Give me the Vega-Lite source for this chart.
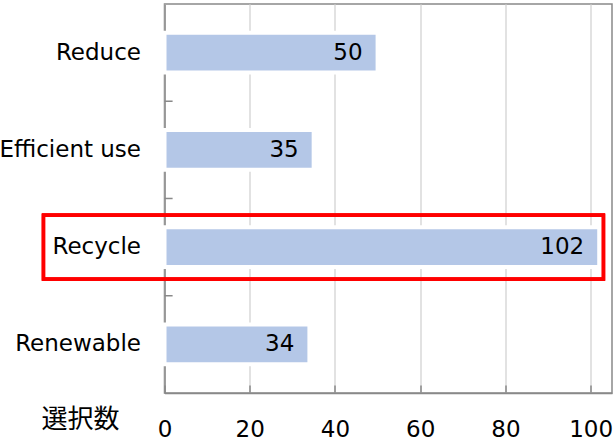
{
  "$schema": "https://vega.github.io/schema/vega-lite/v6.json",
  "autosize": "none",
  "width": 447.5,
  "height": 389,
  "padding": {"left": 164.5, "top": 4, "right": 2, "bottom": 48},
  "config": {
    "view": {"stroke": "#898989", "strokeWidth": 1.5},
    "font": "DejaVu Sans"
  },
  "data": {
    "values": [
      {"category": "Reduce", "count": 50},
      {"category": "Efficient use", "count": 35},
      {"category": "Recycle", "count": 102},
      {"category": "Renewable", "count": 34}
    ]
  },
  "encoding": {
    "y": {
      "field": "category",
      "type": "nominal",
      "sort": null,
      "scale": {"paddingInner": 0.59, "paddingOuter": 0.295},
      "axis": {
        "title": null,
        "labelFontSize": 23,
        "labelColor": "#000000",
        "labelPadding": 24,
        "ticks": false,
        "domainColor": "#898989",
        "domainWidth": 1.5,
        "grid": false
      }
    },
    "x": {
      "field": "count",
      "type": "quantitative",
      "scale": {"domain": [0, 105], "nice": false},
      "axis": {
        "values": [0, 20, 40, 60, 80, 100],
        "title": "選択数",
        "titleFont": "Noto Sans CJK JP",
        "titleFontSize": 26,
        "titleFontWeight": "normal",
        "titleColor": "#000000",
        "titleX": -84.5,
        "titleY": 26,
        "titleAlign": "center",
        "titleBaseline": "middle",
        "titleAngle": 0,
        "labelFontSize": 23,
        "labelColor": "#000000",
        "labelPadding": 33,
        "labelFlush": false,
        "labelOverlap": false,
        "tickSize": -8,
        "tickColor": "#898989",
        "tickWidth": 1.5,
        "domainColor": "#898989",
        "domainWidth": 1.5,
        "grid": true,
        "gridColor": "#d9d9d9",
        "gridWidth": 1.5
      }
    }
  },
  "layer": [
    {
      "mark": {"type": "bar", "fill": "#b4c7e7", "stroke": "#ffffff", "strokeWidth": 4}
    },
    {
      "mark": {"type": "text", "align": "right", "baseline": "middle", "dx": -15, "fontSize": 23, "color": "#000000"},
      "encoding": {"text": {"field": "count", "type": "quantitative"}}
    },
    {
      "transform": [{"filter": "datum.category !== 'Reduce'"}],
      "mark": {"type": "rule", "color": "#898989", "strokeWidth": 1.5},
      "encoding": {
        "x": {"datum": 0},
        "x2": {"datum": 1.9},
        "y": {"field": "category", "type": "nominal", "sort": null, "bandPosition": -0.72}
      }
    },
    {
      "mark": {"type": "bar", "fill": null, "fillOpacity": 0, "stroke": "#ff0000", "strokeWidth": 3.3, "height": 64},
      "encoding": {
        "x": {"datum": -28.4},
        "x2": {"datum": 103.0},
        "y": {"datum": "Recycle"}
      }
    }
  ]
}
